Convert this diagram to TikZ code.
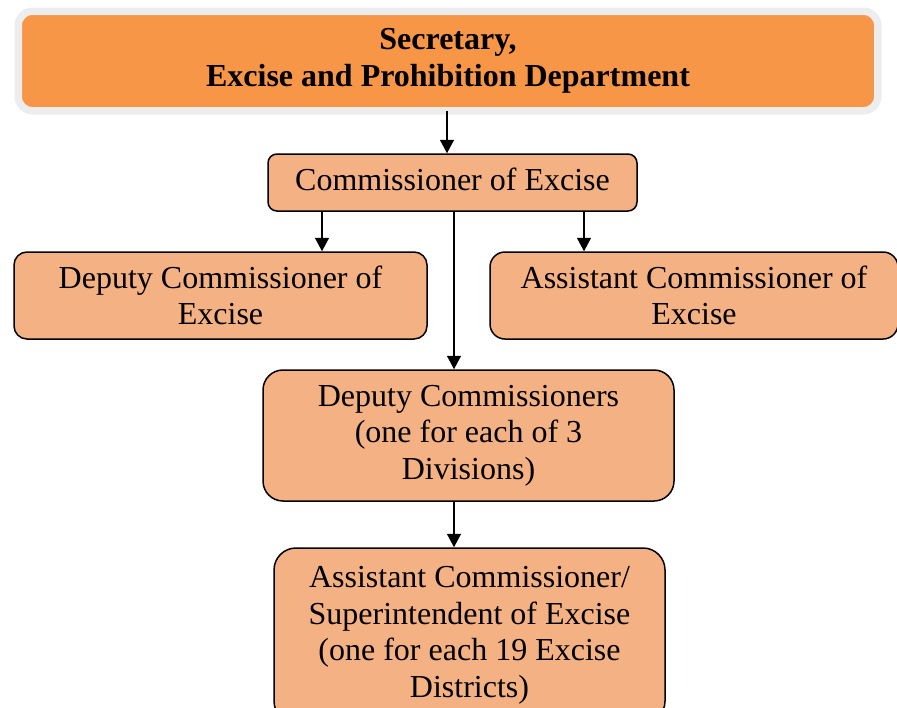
\documentclass[tikz,border=0pt]{standalone}
\usepackage{fontspec}
\setmainfont{Liberation Serif}
\usetikzlibrary{arrows.meta}
\definecolor{topfill}{HTML}{F79646}
\definecolor{boxfill}{HTML}{F4B183}
\definecolor{halo}{HTML}{EDEDED}
\tikzset{
  txt/.style={font=\fontsize{32pt}{36.6pt}\selectfont, align=center, inner sep=0pt},
  topbox/.style={txt, font=\fontsize{32pt}{36.6pt}\selectfont\bfseries, fill=topfill, draw=halo, line width=7.5pt, rounded corners=14pt, outer sep=0pt},
  orgbox/.style={txt, fill=boxfill, draw=black, line width=1.5pt},
  arr/.style={draw=black, line width=1.5pt, -{Triangle[length=13.5pt,width=14pt]}}
}
\begin{document}
\begin{tikzpicture}[x=1pt,y=-1pt]
\useasboundingbox (0,0) rectangle (897,707);
\node[topbox, minimum width=859.5pt, minimum height=99.5pt] (top) at (448,61) {Secretary,\\Excise and Prohibition Department};
\node[orgbox, rounded corners=9pt, minimum width=369pt, minimum height=57pt] (comm) at (452.5,182.5) {\raisebox{3pt}[\height][\depth]{Commissioner of Excise}};
\node[orgbox, rounded corners=13pt, minimum width=413pt, minimum height=87pt] (dep) at (220.5,295.5) {Deputy Commissioner of\\Excise};
\node[orgbox, rounded corners=15pt, minimum width=408pt, minimum height=87pt] (asst) at (694,295.5) {Assistant Commissioner of\\Excise};
\node[orgbox, rounded corners=20pt, minimum width=411pt, minimum height=131pt] (depc) at (468.5,435.5) {Deputy Commissioners\\(one for each of 3\\Divisions)};
\node[orgbox, rounded corners=22pt, minimum width=391pt, minimum height=175pt] (supt) at (469.5,635.5) {Assistant Commissioner/\\Superintendent of Excise\\(one for each 19 Excise\\Districts)};
\draw[arr] ([xshift=-1pt]top.south) -- ([xshift=-5.5pt]comm.north);
\draw[arr] ([xshift=-130.5pt]comm.south) -- ([xshift=101.5pt]dep.north);
\draw[arr] ([xshift=131.5pt]comm.south) -- ([xshift=-110pt]asst.north);
\draw[arr] ([xshift=1.5pt]comm.south) -- ([xshift=-14.5pt]depc.north);
\draw[arr] ([xshift=-14.5pt]depc.south) -- ([xshift=-15.5pt]supt.north);
\end{tikzpicture}
\end{document}
